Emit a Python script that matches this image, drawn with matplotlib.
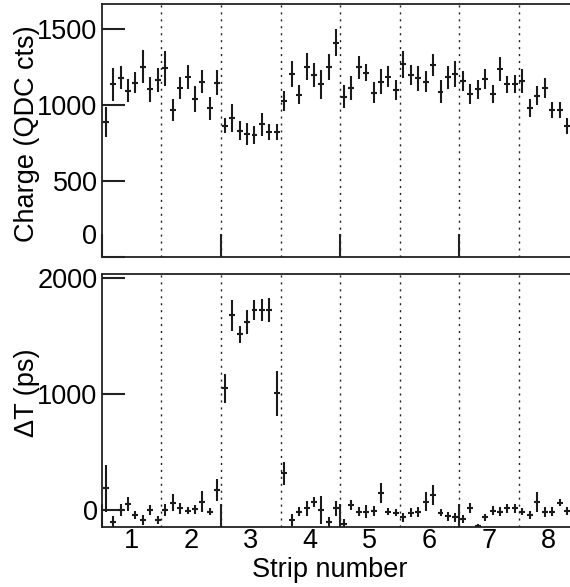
import numpy as np
import matplotlib
matplotlib.use("Agg")
import matplotlib.pyplot as plt
from matplotlib.transforms import offset_copy

# channel index (8 channels per strip); strips 1..8, last channel cut by the frame
channel = np.arange(1, 64)
strip_ticks = [1, 2, 3, 4, 5, 6, 7, 8]
strip_edges = [1.5, 2.5, 3.5, 4.5, 5.5, 6.5, 7.5]

charge = [887, 1137, 1181, 1095, 1148, 1253, 1104, 1166,
          1243, 968, 1111, 1187, 1040, 1155, 979, 1148,
          865, 917, 832, 810, 803, 874, 825, 821,
          1029, 1205, 1067, 1253, 1199, 1137, 1253, 1412,
          1056, 1111, 1249, 1214, 1082, 1155, 1187, 1100,
          1269, 1199, 1177, 1155, 1265, 1089, 1183, 1205,
          1161, 1073, 1104, 1172, 1073, 1236, 1137, 1137,
          1159, 979, 1062, 1111, 968, 968, 862]
charge_err = [98, 107, 77, 75, 69, 110, 82, 77,
              115, 74, 73, 78, 88, 77, 74, 81,
              52, 93, 60, 73, 59, 75, 53, 53,
              67, 87, 63, 88, 77, 97, 85, 88,
              77, 80, 74, 58, 68, 85, 68, 66,
              90, 65, 81, 71, 74, 74, 77, 85,
              65, 64, 64, 64, 57, 79, 55, 60,
              82, 59, 62, 66, 55, 53, 53]

dt = [187, -100, 0, 52, -43, -86, 0, -86,
      0, 63, 14, -6, 6, 72, -14, 172,
      1049, 1681, 1517, 1624, 1724, 1724, 1724, 1006,
      316, -86, -14, 14, 72, 0, -100, 14,
      -120, 43, -14, -14, -6, 150, -14, -23,
      -63, -23, -14, 72, 129, -23, -52, -63,
      -80, 14, -140, -63, -6, -14, 14, 14,
      -14, -43, 72, -14, -14, 63, -6]
dt_err = [200, 46, 50, 57, 37, 39, 43, 32,
          53, 72, 46, 32, 39, 90, 33, 92,
          122, 132, 72, 103, 86, 93, 103, 197,
          100, 53, 40, 65, 43, 118, 43, 65,
          40, 40, 40, 57, 43, 86, 29, 29,
          36, 39, 43, 82, 86, 29, 39, 36,
          36, 43, 20, 33, 39, 40, 40, 40,
          33, 36, 86, 43, 36, 32, 36]

plt.rcParams["font.family"] = ["Liberation Sans", "DejaVu Sans"]
plt.rcParams["font.size"] = 19.5

x = 0.5 + (channel - 0.5) / 8.0

fig = plt.figure(figsize=(5.7, 5.87), dpi=100)
ax1 = fig.add_axes([0.1789, 0.5627, 0.8211, 0.4305])
ax2 = fig.add_axes([0.1789, 0.1027, 0.8211, 0.4300])

for ax, y, yerr in [(ax1, charge, charge_err), (ax2, dt, dt_err)]:
    ax.errorbar(x, y, yerr=yerr, xerr=0.05, fmt="none", ecolor="#1a1a1a",
                elinewidth=1.5, capsize=0)
    for e in strip_edges:
        ax.axvline(e, color="#222222", lw=1.0, ls=(0, (1.5, 3.5)), zorder=0)
    ax.set_xlim(0.5, 8.363)
    ax.spines["right"].set_visible(False)
    for s in ("left", "top", "bottom"):
        ax.spines[s].set_linewidth(1.3)
        ax.spines[s].set_color("#222222")
    ax.set_xticks(strip_ticks)
    ax.set_xticks([0.5, 2.5, 4.5, 6.5], minor=True)
    ax.tick_params(axis="x", which="major", length=0, pad=1)
    ax.tick_params(axis="x", which="minor", direction="in", length=16.5,
                   width=1.5, color="#222222")
    ax.tick_params(axis="y", which="major", direction="in", length=16.5,
                   width=1.5, pad=3.2, color="#222222")
    ax.tick_params(right=False, top=False)

# top panel: charge
ax1.set_ylim(0, 1667)
ax1.set_yticks([0, 500, 1000, 1500], ["", "500", "1000", "1500"])
ax1.tick_params(axis="x", labelbottom=False)
zero_tr = offset_copy(ax1.get_yaxis_transform(), fig=fig, x=-4.5, y=20, units="dots")
ax1.text(0, 0, "0", transform=zero_tr, ha="right", va="center")
ax1.set_ylabel("Charge (QDC cts)")
ax1.yaxis.set_label_coords(-0.16, 0.485)
ax1.yaxis.label.set_va("center")

# bottom panel: time difference
ax2.set_ylim(-144, 2034)
ax2.set_yticks([0, 1000, 2000])
ax2.set_ylabel("\u0394T (ps)")
ax2.yaxis.set_label_coords(-0.16, 0.53)
ax2.yaxis.label.set_va("center")
ax2.set_xlabel("Strip number")
ax2.xaxis.set_label_coords(0.487, -0.172)
ax2.xaxis.label.set_va("center")

fig.savefig("out.png", dpi=100)
plt.close(fig)
